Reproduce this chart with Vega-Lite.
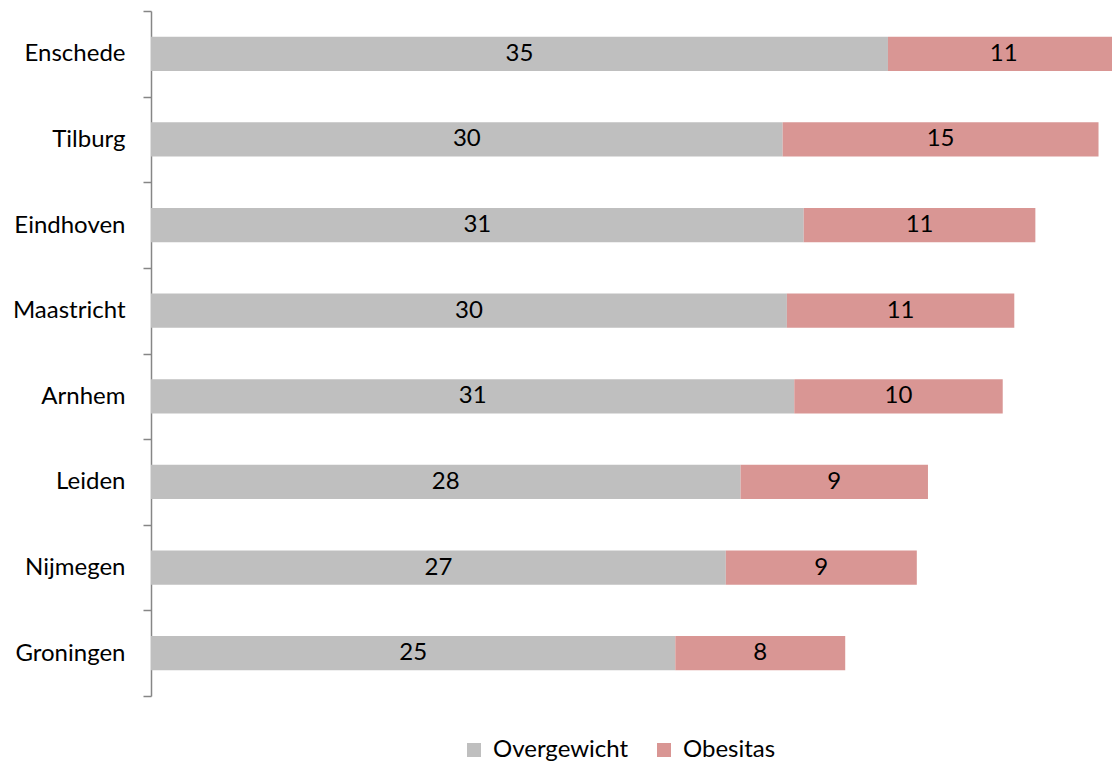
{
  "$schema": "https://vega.github.io/schema/vega-lite/v6.json",
  "autosize": {"type": "none"},
  "padding": {"left": 151, "top": 11, "right": 0, "bottom": 67},
  "width": 961,
  "height": 685,
  "background": "white",
  "config": {"view": {"stroke": null}, "font": "Lato"},
  "data": {
    "values": [
      {"city": "Enschede", "series": "Overgewicht", "value": 35.0},
      {"city": "Enschede", "series": "Obesitas", "value": 11.0},
      {"city": "Tilburg", "series": "Overgewicht", "value": 30.0},
      {"city": "Tilburg", "series": "Obesitas", "value": 15.0},
      {"city": "Eindhoven", "series": "Overgewicht", "value": 31.0},
      {"city": "Eindhoven", "series": "Obesitas", "value": 11.0},
      {"city": "Maastricht", "series": "Overgewicht", "value": 30.2},
      {"city": "Maastricht", "series": "Obesitas", "value": 10.8},
      {"city": "Arnhem", "series": "Overgewicht", "value": 30.55},
      {"city": "Arnhem", "series": "Obesitas", "value": 9.9},
      {"city": "Leiden", "series": "Overgewicht", "value": 28.0},
      {"city": "Leiden", "series": "Obesitas", "value": 8.9},
      {"city": "Nijmegen", "series": "Overgewicht", "value": 27.3},
      {"city": "Nijmegen", "series": "Obesitas", "value": 9.07},
      {"city": "Groningen", "series": "Overgewicht", "value": 24.9},
      {"city": "Groningen", "series": "Obesitas", "value": 8.07}
    ]
  },
  "encoding": {
    "y": {
      "field": "city",
      "type": "nominal",
      "sort": ["Enschede", "Tilburg", "Eindhoven", "Maastricht", "Arnhem", "Leiden", "Nijmegen", "Groningen"],
      "scale": {"paddingInner": 0, "paddingOuter": 0},
      "axis": {
        "title": null,
        "tickBand": "extent",
        "domainColor": "#868686",
        "domainWidth": 1.5,
        "tickColor": "#868686",
        "tickWidth": 1.5,
        "tickSize": 8,
        "labelPadding": 18,
        "labelFontSize": 24,
        "labelColor": "#000000",
        "labelFont": "Lato",
        "grid": false
      }
    },
    "x": {
      "field": "value",
      "type": "quantitative",
      "stack": "zero",
      "scale": {"domain": [0, 45.64], "nice": false, "zero": true},
      "axis": null
    },
    "order": {"field": "series", "sort": "descending"}
  },
  "layer": [
    {
      "mark": {"type": "bar", "height": {"band": 0.4}, "clip": true},
      "encoding": {
        "color": {
          "field": "series",
          "type": "nominal",
          "scale": {"domain": ["Overgewicht", "Obesitas"], "range": ["#BFBFBF", "#D99694"]},
          "legend": {
            "title": null,
            "orient": "none",
            "direction": "horizontal",
            "legendX": 311,
            "legendY": 727,
            "padding": 0,
            "symbolType": "square",
            "symbolSize": 196,
            "symbolStrokeWidth": 0,
            "labelFontSize": 24,
            "labelFont": "Lato",
            "labelColor": "#000000",
            "labelOffset": 7,
            "columnPadding": 23
          }
        }
      }
    },
    {
      "mark": {"type": "text", "fontSize": 24, "color": "#000000", "baseline": "middle", "align": "center"},
      "encoding": {
        "x": {"field": "value", "type": "quantitative", "stack": "zero", "bandPosition": 0.5},
        "detail": {"field": "series"},
        "text": {"field": "value", "type": "quantitative", "format": ".0f"}
      }
    }
  ]
}
